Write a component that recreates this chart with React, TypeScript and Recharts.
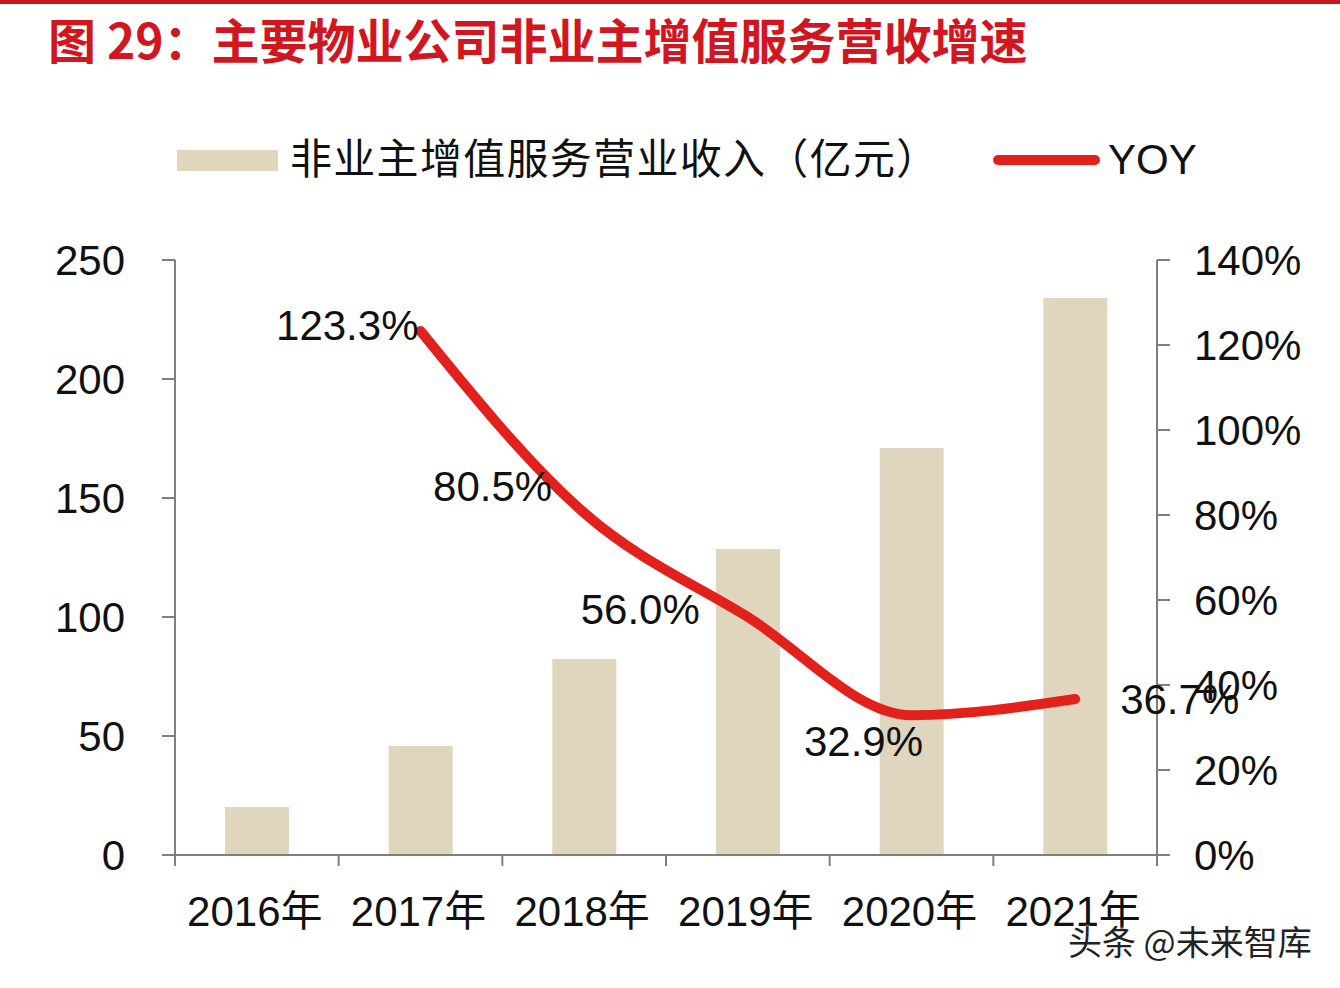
import { Bar, ComposedChart, LabelList, Line, XAxis, YAxis } from 'recharts';

const YEARS = ['2016年', '2017年', '2018年', '2019年', '2020年', '2021年'];
const REVENUE = [20.2, 45.8, 82.4, 128.6, 171.0, 234.0];
const YOY: Array<number | null> = [null, 123.3, 80.5, 56.0, 32.9, 36.7];
const LEFT_TICKS = [0, 50, 100, 150, 200, 250];
const RIGHT_TICKS = [0, 20, 40, 60, 80, 100, 120, 140];

const BAR_NAME = '非业主增值服务营业收入（亿元）';
const LINE_NAME = 'YOY';

const FONT = "'Liberation Sans', Arial, 'Noto Sans CJK SC', sans-serif";
const BAR_COLOR = '#e0d5bd';
const LINE_COLOR = '#e3211c';
const AXIS_COLOR = '#7f7f7f';
const TEXT_SIZE = 42;

// label placement around each YOY point (dx, dy, anchor), by category index
const LABEL_OFFSETS: Array<[number, number, 'start' | 'middle' | 'end']> = [
  [0, 0, 'end'],
  [-2, -5, 'end'],
  [-32, -26, 'end'],
  [-48, -8, 'end'],
  [-48, 26, 'middle'],
  [45, 0, 'start'],
];

const data = YEARS.map((year, i) => ({ year, revenue: REVENUE[i], yoy: YOY[i] }));

const PLOT_LEFT = 175;
const PLOT_RIGHT = 1157;
const BAND = (PLOT_RIGHT - PLOT_LEFT) / YEARS.length;

function XTick(props: any) {
  const { x, y, payload, index } = props;
  const left = x - BAND / 2;
  return (
    <g>
      <line x1={left} x2={left} y1={y} y2={y + 11} stroke={AXIS_COLOR} strokeWidth={2} />
      {index === YEARS.length - 1 && (
        <line x1={x + BAND / 2} x2={x + BAND / 2} y1={y} y2={y + 11} stroke={AXIS_COLOR} strokeWidth={2} />
      )}
      <text x={x - 2} y={y + 56} textAnchor="middle" dominantBaseline="central" fontSize={TEXT_SIZE} fill="#111" fontFamily={FONT}>
        {payload.value}
      </text>
    </g>
  );
}

function YoyLabel(props: any) {
  const { x, y, value, index } = props;
  if (value == null) return null;
  const [dx, dy, anchor] = LABEL_OFFSETS[index];
  return (
    <text x={x + dx} y={y + dy} textAnchor={anchor} dominantBaseline="central" fontSize={TEXT_SIZE} fill="#111" fontFamily={FONT}>
      {`${value.toFixed(1)}%`}
    </text>
  );
}

export default function App() {
  return (
    <div style={{ position: 'absolute', left: 0, top: 0, width: 1340, height: 988, background: '#fff', fontFamily: FONT }}>
      <div style={{ position: 'absolute', left: 0, top: 0, width: 1340, height: 4, background: '#c8161d' }} />
      <div
        style={{
          position: 'absolute',
          left: 48,
          top: 13,
          fontSize: 48,
          lineHeight: '50px',
          fontWeight: 700,
          color: '#d2161f',
          fontFamily: "'Noto Sans CJK SC', sans-serif",
          whiteSpace: 'nowrap',
        }}
      >
        图 29：主要物业公司非业主增值服务营收增速
      </div>

      <div style={{ position: 'absolute', left: 177, top: 150, width: 101, height: 21, background: BAR_COLOR }} />
      <div
        style={{
          position: 'absolute',
          left: 290,
          top: 135,
          fontSize: TEXT_SIZE,
          lineHeight: '50px',
          letterSpacing: 1.3,
          color: '#111',
          whiteSpace: 'nowrap',
        }}
      >
        {BAR_NAME}
      </div>
      <div style={{ position: 'absolute', left: 993, top: 155, width: 107, height: 10, borderRadius: 5, background: LINE_COLOR }} />
      <div style={{ position: 'absolute', left: 1108, top: 135, fontSize: TEXT_SIZE, lineHeight: '50px', color: '#111' }}>{LINE_NAME}</div>

      <ComposedChart
        width={1340}
        height={988}
        data={data}
        margin={{ top: 260, right: 0, bottom: 0, left: 0 }}
        style={{ position: 'absolute', left: 0, top: 0 }}
      >
        <XAxis
          dataKey="year"
          height={133}
          tickLine={false}
          tickSize={0}
          tickMargin={0}
          axisLine={{ stroke: AXIS_COLOR, strokeWidth: 2 }}
          tick={<XTick />}
          interval={0}
        />
        <YAxis
          yAxisId="left"
          width={175}
          domain={[0, 250]}
          ticks={LEFT_TICKS}
          tickSize={13}
          tickMargin={37}
          axisLine={{ stroke: AXIS_COLOR, strokeWidth: 2 }}
          tickLine={{ stroke: AXIS_COLOR, strokeWidth: 2 }}
          tick={{ fontSize: TEXT_SIZE, fill: '#111', fontFamily: FONT }}
        />
        <YAxis
          yAxisId="right"
          orientation="right"
          width={183}
          domain={[0, 140]}
          ticks={RIGHT_TICKS}
          tickSize={13}
          tickMargin={24}
          tickFormatter={(v: number) => `${v}%`}
          axisLine={{ stroke: AXIS_COLOR, strokeWidth: 2 }}
          tickLine={{ stroke: AXIS_COLOR, strokeWidth: 2 }}
          tick={{ fontSize: TEXT_SIZE, fill: '#111', fontFamily: FONT }}
        />
        <Bar yAxisId="left" dataKey="revenue" name={BAR_NAME} fill={BAR_COLOR} barSize={64} isAnimationActive={false} />
        <Line
          yAxisId="right"
          dataKey="yoy"
          name={LINE_NAME}
          type="monotone"
          stroke={LINE_COLOR}
          strokeWidth={10}
          strokeLinecap="round"
          dot={false}
          activeDot={false}
          isAnimationActive={false}
        >
          <LabelList dataKey="yoy" content={<YoyLabel />} />
        </Line>
      </ComposedChart>

      <div
        style={{
          position: 'absolute',
          left: 1068,
          top: 921,
          fontSize: 34,
          lineHeight: '40px',
          color: '#222',
          whiteSpace: 'nowrap',
          fontFamily: "'Noto Sans CJK SC', sans-serif",
          textShadow: '0 0 3px #fff, 0 0 3px #fff',
        }}
      >
        头条 @未来智库
      </div>
    </div>
  );
}
